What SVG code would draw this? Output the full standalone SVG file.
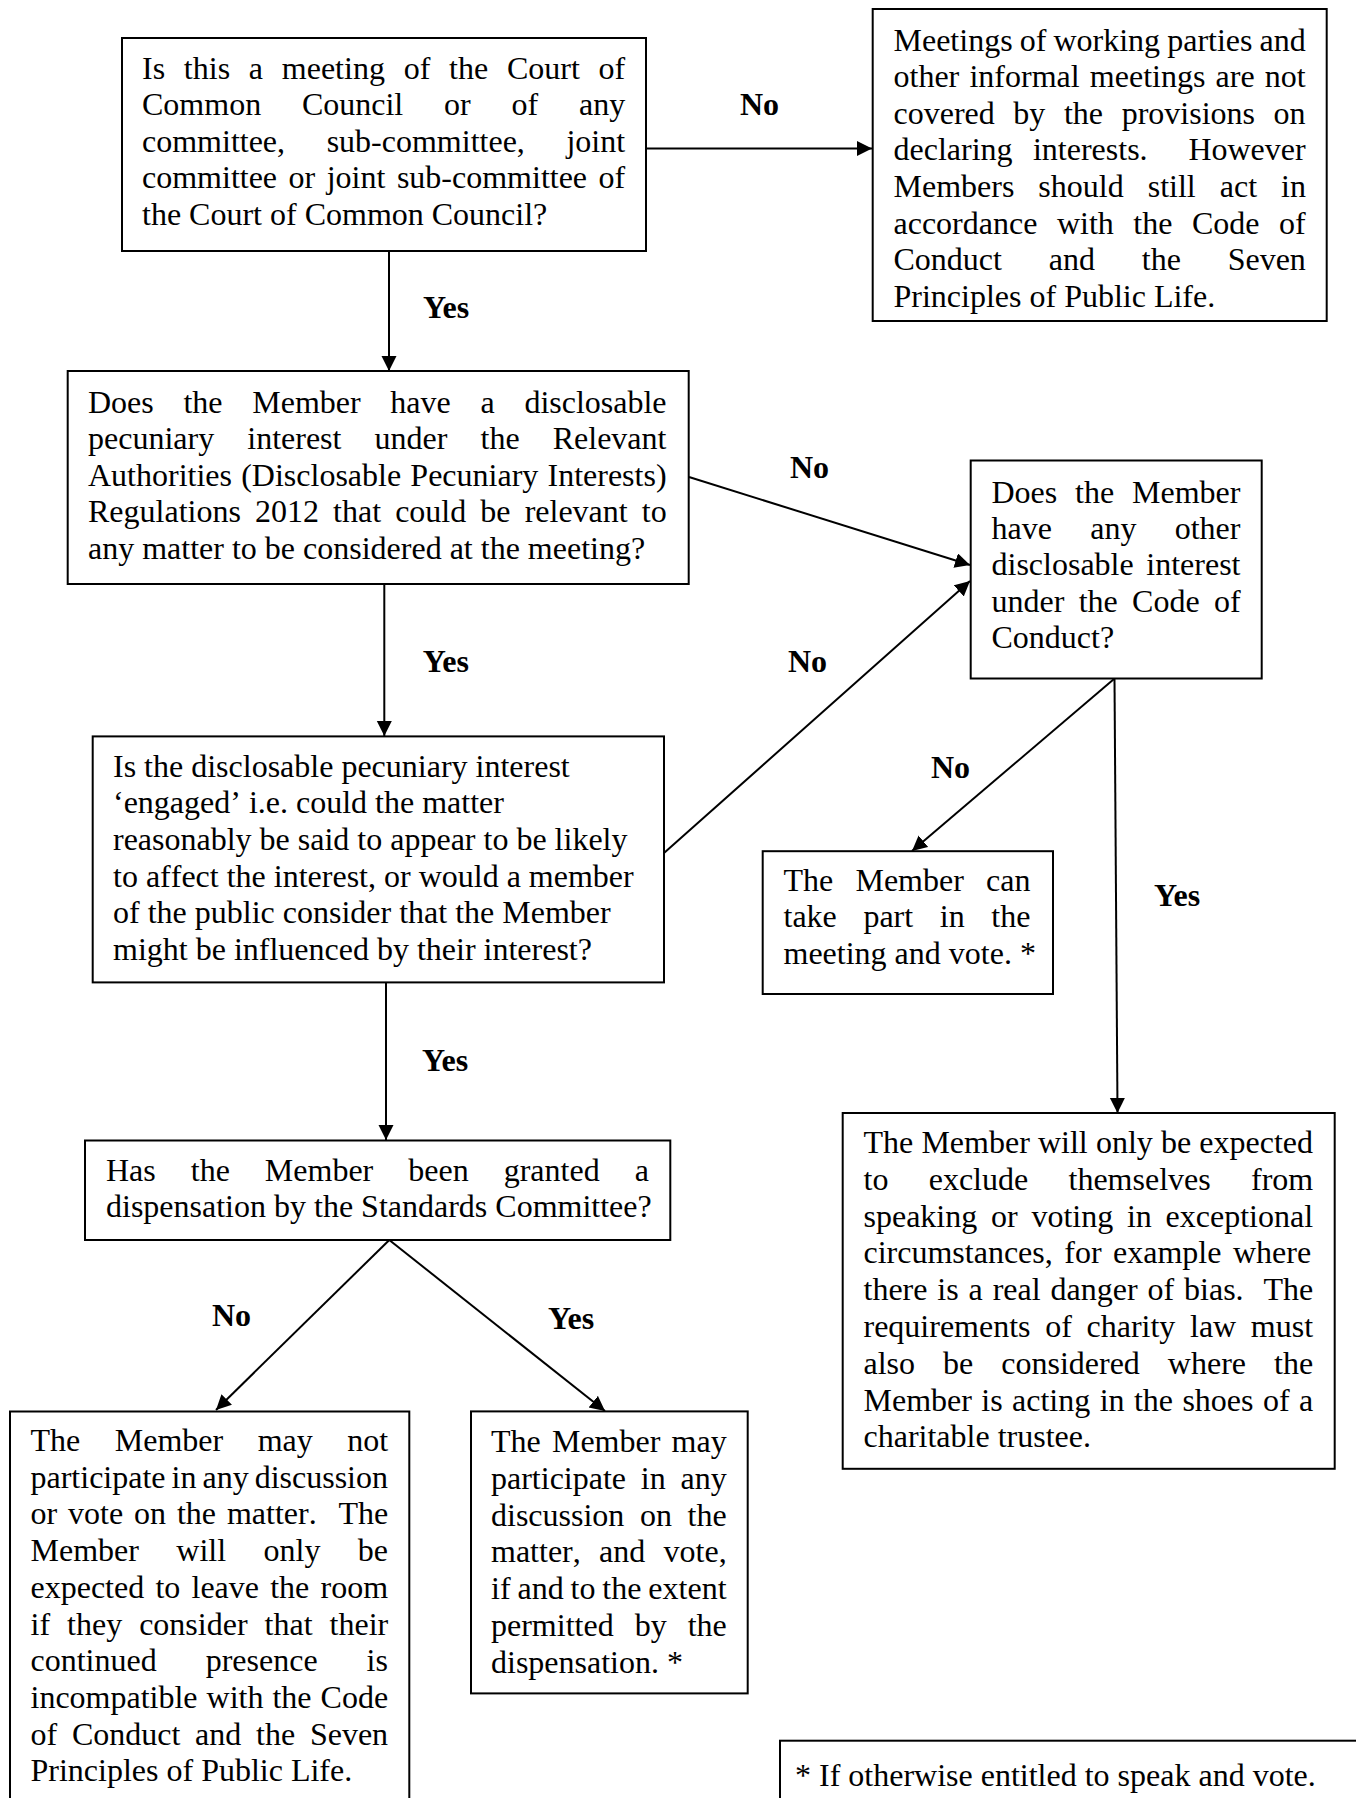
<svg xmlns="http://www.w3.org/2000/svg" width="1356" height="1798" viewBox="0 0 1356 1798">
<style>
.box{fill:#fff;stroke:#000;stroke-width:2}
.t{font-family:"Liberation Serif","Times New Roman",serif;font-size:32px;fill:#000;font-kerning:none}
.lbl{font-family:"Liberation Serif","Times New Roman",serif;font-size:32px;font-weight:bold;fill:#000}
.conn{stroke:#000;stroke-width:2;fill:none;marker-end:url(#arr)}
</style>
<defs>
<marker id="arr" markerUnits="userSpaceOnUse" markerWidth="16" markerHeight="16" refX="15" refY="7.5" orient="auto"><path d="M0,0 L15,7.5 L0,15 z" fill="#000"/></marker>
</defs>
<rect width="1356" height="1798" fill="#fff"/>

<g id="connectors">
<line class="conn" x1="389" y1="251" x2="389" y2="371"/>
<line class="conn" x1="646" y1="148.5" x2="872" y2="148.5"/>
<line class="conn" x1="689" y1="477" x2="970" y2="565"/>
<line class="conn" x1="664" y1="853" x2="970" y2="581"/>
<line class="conn" x1="384.3" y1="584" x2="384.3" y2="736"/>
<line class="conn" x1="386" y1="982.5" x2="386" y2="1140"/>
<line class="conn" x1="1114" y1="679" x2="912" y2="851"/>
<line class="conn" x1="1114.5" y1="679" x2="1117.5" y2="1113"/>
<line class="conn" x1="389.3" y1="1240" x2="216" y2="1410"/>
<line class="conn" x1="389.3" y1="1240" x2="605" y2="1411"/>
<text class="lbl" x="423" y="317.6">Yes</text>
<text class="lbl" x="740" y="115">No</text>
<text class="lbl" x="790" y="478">No</text>
<text class="lbl" x="422.7" y="671.7">Yes</text>
<text class="lbl" x="788" y="671.7">No</text>
<text class="lbl" x="422" y="1071">Yes</text>
<text class="lbl" x="931" y="778">No</text>
<text class="lbl" x="1154" y="906">Yes</text>
<text class="lbl" x="212" y="1326">No</text>
<text class="lbl" x="548" y="1329">Yes</text>
</g>

<g id="q1">
<rect class="box" x="122" y="38" width="524" height="213"/>
<text class="t" x="142" y="78.5" style="word-spacing:10.76px">Is this a meeting of the Court of</text>
<text class="t" x="142" y="115.1" style="word-spacing:32.8px">Common Council or of any</text>
<text class="t" x="142" y="151.7" style="word-spacing:33.6px">committee, sub-committee, joint</text>
<text class="t" x="142" y="188.3" style="word-spacing:3.5px">committee or joint sub-committee of</text>
<text class="t" x="142" y="224.9">the Court of Common Council?</text>
</g>

<g id="r1">
<rect class="box" x="872.7" y="9" width="454" height="312"/>
<text class="t" x="893.5" y="50.5" style="word-spacing:-0.9px">Meetings of working parties and</text>
<text class="t" x="893.5" y="87.1" style="word-spacing:2.2px">other informal meetings are not</text>
<text class="t" x="893.5" y="123.7" style="word-spacing:10.6px">covered by the provisions on</text>
<text class="t" x="893.5" y="160.3" style="word-spacing:12.4px" xml:space="preserve">declaring interests.  However</text>
<text class="t" x="893.5" y="196.9" style="word-spacing:16px">Members should still act in</text>
<text class="t" x="893.5" y="233.5" style="word-spacing:11.55px">accordance with the Code of</text>
<text class="t" x="893.5" y="270.1" style="word-spacing:38.8px">Conduct and the Seven</text>
<text class="t" x="893.5" y="306.7">Principles of Public Life.</text>
</g>

<g id="q2">
<rect class="box" x="67.7" y="371" width="621" height="213"/>
<text class="t" x="88" y="412.5" style="word-spacing:21.7px">Does the Member have a disclosable</text>
<text class="t" x="88" y="449.1" style="word-spacing:25.1px">pecuniary interest under the Relevant</text>
<text class="t" x="88" y="485.7" style="word-spacing:1.2px">Authorities (Disclosable Pecuniary Interests)</text>
<text class="t" x="88" y="522.3" style="word-spacing:6.1px">Regulations 2012 that could be relevant to</text>
<text class="t" x="88" y="558.9">any matter to be considered at the meeting?</text>
</g>

<g id="q3">
<rect class="box" x="970.7" y="460.5" width="291" height="218"/>
<text class="t" x="991.5" y="502.6" style="word-spacing:9.85px">Does the Member</text>
<text class="t" x="991.5" y="539" style="word-spacing:30.3px">have any other</text>
<text class="t" x="991.5" y="575.4" style="word-spacing:4.6px">disclosable interest</text>
<text class="t" x="991.5" y="611.8" style="word-spacing:6.3px">under the Code of</text>
<text class="t" x="991.5" y="648.2">Conduct?</text>
</g>

<g id="q4">
<rect class="box" x="92.7" y="736.4" width="571.3" height="246"/>
<text class="t" x="113" y="776.6">Is the disclosable pecuniary interest</text>
<text class="t" x="113" y="813.3">‘engaged’ i.e. could the matter</text>
<text class="t" x="113" y="850">reasonably be said to appear to be likely</text>
<text class="t" x="113" y="886.7">to affect the interest, or would a member</text>
<text class="t" x="113" y="923.4">of the public consider that the Member</text>
<text class="t" x="113" y="960.1">might be influenced by their interest?</text>
</g>

<g id="a3">
<rect class="box" x="762.7" y="851.2" width="290.3" height="142.8"/>
<text class="t" x="783.5" y="890.6" style="word-spacing:14.2px">The Member can</text>
<text class="t" x="783.5" y="927.2" style="word-spacing:18.6px">take part in the</text>
<text class="t" x="783.5" y="963.8">meeting and vote. *</text>
</g>

<g id="q5">
<rect class="box" x="85" y="1140.5" width="585.3" height="99.5"/>
<text class="t" x="106" y="1180.6" style="word-spacing:27px">Has the Member been granted a</text>
<text class="t" x="106" y="1217.2">dispensation by the Standards Committee?</text>
</g>

<g id="a4">
<rect class="box" x="842.7" y="1113" width="492" height="355.8"/>
<text class="t" x="863.5" y="1153" style="word-spacing:0.16px">The Member will only be expected</text>
<text class="t" x="863.5" y="1189.8" style="word-spacing:32.3px">to exclude themselves from</text>
<text class="t" x="863.5" y="1226.6" style="word-spacing:5.75px">speaking or voting in exceptional</text>
<text class="t" x="863.5" y="1263.4" style="word-spacing:3.5px">circumstances, for example where</text>
<text class="t" x="863.5" y="1300.2" style="word-spacing:1.9px" xml:space="preserve">there is a real danger of bias.  The</text>
<text class="t" x="863.5" y="1337" style="word-spacing:6.65px">requirements of charity law must</text>
<text class="t" x="863.5" y="1373.8" style="word-spacing:20px">also be considered where the</text>
<text class="t" x="863.5" y="1410.6" style="word-spacing:1.4px">Member is acting in the shoes of a</text>
<text class="t" x="863.5" y="1447.4">charitable trustee.</text>
</g>

<g id="a1">
<rect class="box" x="10" y="1411.5" width="399.3" height="400"/>
<text class="t" x="30.5" y="1451" style="word-spacing:26.5px">The Member may not</text>
<text class="t" x="30.5" y="1487.7" style="word-spacing:-2px">participate in any discussion</text>
<text class="t" x="30.5" y="1524.4" style="word-spacing:2.9px" xml:space="preserve">or vote on the matter.  The</text>
<text class="t" x="30.5" y="1561.1" style="word-spacing:29.4px">Member will only be</text>
<text class="t" x="30.5" y="1597.8" style="word-spacing:3.2px">expected to leave the room</text>
<text class="t" x="30.5" y="1634.5" style="word-spacing:9px">if they consider that their</text>
<text class="t" x="30.5" y="1671.2" style="word-spacing:41px">continued presence is</text>
<text class="t" x="30.5" y="1707.9" style="word-spacing:1px">incompatible with the Code</text>
<text class="t" x="30.5" y="1744.6" style="word-spacing:6.75px">of Conduct and the Seven</text>
<text class="t" x="30.5" y="1781.3">Principles of Public Life.</text>
</g>

<g id="a2">
<rect class="box" x="471" y="1411.4" width="276.7" height="282"/>
<text class="t" x="491" y="1452.3" style="word-spacing:3.2px">The Member may</text>
<text class="t" x="491" y="1489" style="word-spacing:6.75px">participate in any</text>
<text class="t" x="491" y="1525.7" style="word-spacing:7.6px">discussion on the</text>
<text class="t" x="491" y="1562.4" style="word-spacing:10.3px">matter, and vote,</text>
<text class="t" x="491" y="1599.1" style="word-spacing:-1.1px">if and to the extent</text>
<text class="t" x="491" y="1635.8" style="word-spacing:13px">permitted by the</text>
<text class="t" x="491" y="1672.5">dispensation. *</text>
</g>

<g id="footnote">
<rect class="box" x="780" y="1740.7" width="600" height="100"/>
<text class="t" x="795" y="1786">* If otherwise entitled to speak and vote.</text>
</g>
</svg>
